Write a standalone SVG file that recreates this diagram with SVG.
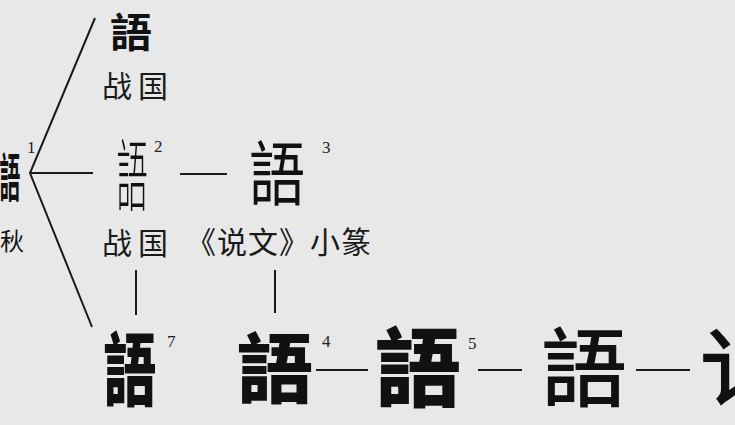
<svg xmlns="http://www.w3.org/2000/svg" width="735" height="425" viewBox="0 0 735 425">
<style>
.bg{fill:#e8e8e8}
.g{font-family:"Noto Sans CJK TC","Noto Sans CJK SC",sans-serif;fill:#111;text-anchor:middle}
.gs{font-family:"Noto Sans CJK SC",sans-serif;fill:#111;text-anchor:start}
.lab{font-family:"Noto Sans CJK SC",sans-serif;fill:#1a1a1a;font-size:30px}
.sup{font-family:"Liberation Serif",serif;fill:#222;font-size:17px}
.ln{stroke:#1a1a1a;stroke-width:2;fill:none}
</style>
<rect class="bg" x="0" y="0" width="735" height="425"/>
<g id="connectors">
<polyline class="ln" points="95,18 30,173 92,327"/>
<line class="ln" x1="30" y1="173" x2="93" y2="173"/>
<line class="ln" x1="180" y1="174" x2="227" y2="174"/>
<line class="ln" x1="136" y1="270" x2="136" y2="315"/>
<line class="ln" x1="275" y1="270" x2="275" y2="313"/>
<line class="ln" x1="316" y1="370" x2="368" y2="370"/>
<line class="ln" x1="478" y1="370" x2="522" y2="370"/>
<line class="ln" x1="636" y1="370" x2="690" y2="370"/>
</g>
<g id="n-chunqiu">
<text class="g" transform="translate(10,197) scale(0.4,1)" x="0" y="0" font-size="52" font-weight="700">語</text>
<text class="gs" x="0" y="250" font-size="24" font-weight="400">秋</text>
<text class="sup" x="27" y="153">1</text>
</g>
<g id="n-zhanguo-top">
<text class="g" transform="translate(131,47) scale(1.05,1)" x="0" y="0" font-size="40" font-weight="700">語</text>
<text class="lab" x="102" y="97" letter-spacing="6">战国</text>
</g>
<g id="n-zhanguo-2">
<text class="g" transform="translate(132,205) scale(0.4,1)" x="0" y="0" font-size="78" font-weight="300">語</text>
<text class="sup" x="154" y="152">2</text>
<text class="lab" x="102" y="254" letter-spacing="6">战国</text>
</g>
<g id="n-shuowen-3">
<text class="g" transform="translate(277,200) scale(0.8,1)" x="0" y="0" font-size="70" font-weight="400">語</text>
<text class="sup" x="322" y="153">3</text>
<text class="lab" x="186" y="253" letter-spacing="1">《说文》小篆</text>
</g>
<g id="n-7">
<text class="g" transform="translate(130,399) scale(0.66,1)" x="0" y="0" font-size="80" font-weight="900">語</text>
<text class="sup" x="167" y="347">7</text>
</g>
<g id="n-4">
<text class="g" x="275" y="397" font-size="76" font-weight="900">語</text>
<text class="sup" x="322" y="347" font-family="Liberation Sans, sans-serif" font-size="16">4</text>
</g>
<g id="n-5">
<text class="g" x="418" y="400" font-size="86" font-weight="900">語</text>
<text class="sup" x="468" y="349">5</text>
</g>
<g id="n-kai">
<text class="g" x="584" y="400" font-size="86" font-weight="500">語</text>
</g>
<g id="n-simplified">
<text class="gs" x="700" y="400" font-size="86" font-weight="500" letter-spacing="-56">讠</text>
</g>
</svg>
